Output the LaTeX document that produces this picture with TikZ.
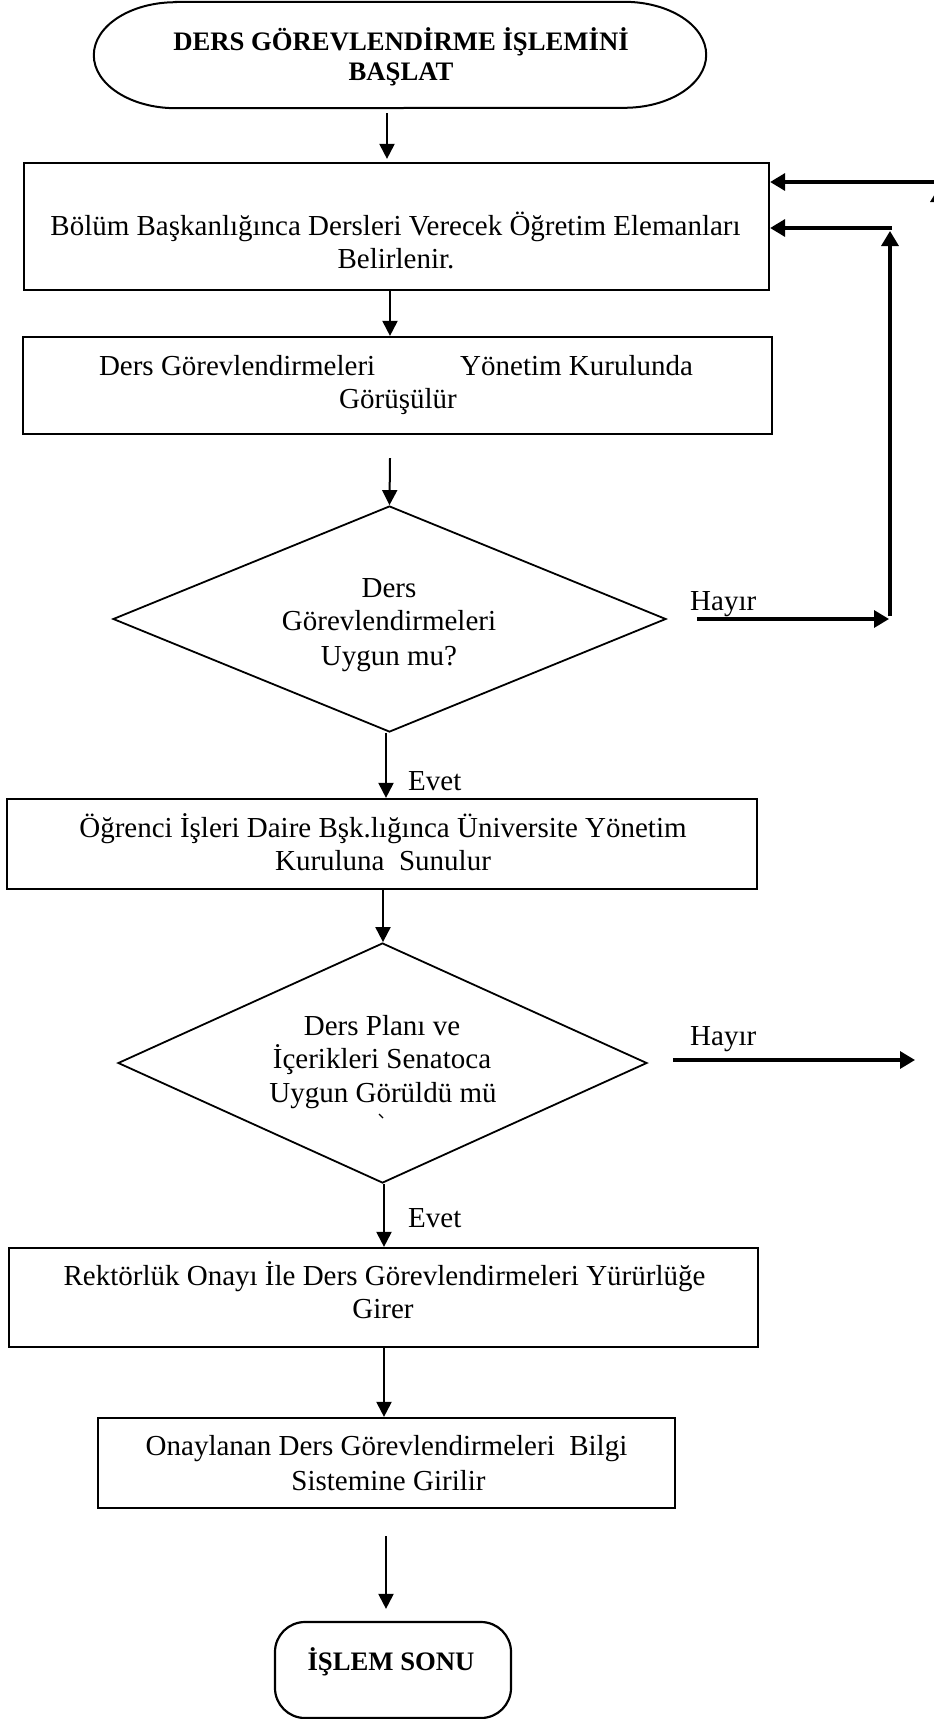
\documentclass[tikz,border=0pt]{standalone}
\usepackage{fontspec}
\setmainfont{Liberation Serif}
\usetikzlibrary{arrows.meta,shapes.geometric}
\begin{document}
\begin{tikzpicture}[x=1pt,y=-1pt,
  box/.style={draw, line width=2.2pt, rectangle, inner sep=0pt},
  decision/.style={draw, line width=1.8pt, diamond, inner sep=0pt},
  frame/.style={rectangle, inner sep=0pt},
  txt/.style={inner sep=0pt, anchor=base, font=\fontsize{29}{33}\selectfont},
  ttl/.style={inner sep=0pt, anchor=base, font=\bfseries\fontsize{26.7}{30}\selectfont},
  lbl/.style={inner sep=0pt, anchor=base west, font=\fontsize{29}{33}\selectfont},
  flow/.style={line width=2pt, -{Triangle[length=15pt,width=15pt]}},
  back/.style={line width=3.3pt, -{Triangle[length=15pt,width=17pt]}}
]
\path[use as bounding box] (0,0) rectangle (934,1719);
\clip (0,0) rectangle (934,1719);
\fill[white] (0,0) rectangle (934,1719);

% ---- shapes ----
\node[frame, minimum width=612pt, minimum height=106pt] (s) at (400,55) {};
\draw[line width=2pt] ([xshift=82pt]s.north west) -- ([xshift=-82pt]s.north east)
  arc[start angle=90, end angle=-90, x radius=82pt, y radius=53pt]
  -- ([xshift=82pt]s.south west)
  arc[start angle=270, end angle=90, x radius=82pt, y radius=53pt] -- cycle;

\node[box, minimum width=745pt, minimum height=127pt] (b1) at (396.5,226.5) {};
\node[box, minimum width=749pt, minimum height=97pt]  (b2) at (397.5,385.5) {};
\node[decision, minimum width=553pt, minimum height=226pt] (d1) at (389.5,619) {};
\node[box, minimum width=750pt, minimum height=90pt]  (b3) at (382,844) {};
\node[decision, minimum width=529pt, minimum height=240pt] (d2) at (382.5,1063) {};
\node[box, minimum width=749pt, minimum height=99pt]  (b4) at (383.5,1297.5) {};
\node[box, minimum width=577pt, minimum height=90pt]  (b5) at (386.5,1463) {};
\node[box, rounded corners=30pt, minimum width=236pt, minimum height=96pt] (e) at (393,1670) {};

% ---- texts ----
\node[ttl] (s1) at (401,50) {DERS GÖREVLENDİRME İŞLEMİNİ};
\node[ttl] (s2) at (401,80) {BAŞLAT};

\node[txt] (t1a) at (395.5,235) {Bölüm Başkanlığınca Dersleri Verecek Öğretim Elemanları};
\node[txt] (t1b) at (396,268) {Belirlenir.};

\node[txt] (t2a) at (396,375) {Ders Görevlendirmeleri\hspace{85pt}Yönetim Kurulunda};
\node[txt] (t2b) at (398,408) {Görüşülür};

\node[txt] (q1a) at (389,597) {Ders};
\node[txt] (q1b) at (389,630) {Görevlendirmeleri};
\node[txt] (q1c) at (389,665) {Uygun mu?};

\node[txt] (t3a) at (383,837) {Öğrenci İşleri Daire Bşk.lığınca Üniversite Yönetim};
\node[txt] (t3b) at (383,870) {Kuruluna\ \ Sunulur};

\node[txt] (q2a) at (382,1035) {Ders Planı ve};
\node[txt] (q2b) at (382,1068) {İçerikleri Senatoca};
\node[txt] (q2c) at (383,1102) {Uygun Görüldü mü};
\draw[line width=1.2pt] (379,1114) -- (383,1118);

\node[txt] (t4a) at (384.5,1285) {Rektörlük Onayı İle Ders Görevlendirmeleri Yürürlüğe};
\node[txt] (t4b) at (383,1318) {Girer};

\node[txt] (t5a) at (386.5,1455) {Onaylanan Ders Görevlendirmeleri\ \ Bilgi};
\node[txt] (t5b) at (388.5,1490) {Sistemine Girilir};

\node[ttl] (e1) at (391,1670) {İŞLEM SONU};

% ---- branch labels ----
\node[lbl] (y1) at (408,790) {Evet};
\node[lbl] (y2) at (408,1227) {Evet};
\node[lbl] (n1) at (690,610) {Hayır};
\node[lbl] (n2) at (690,1045) {Hayır};

% ---- main flow ----
\draw[flow] ([xshift=-13pt,yshift=-5pt]s.south) -- ([xshift=-9.5pt,yshift=3pt]b1.north);
\draw[flow] ([xshift=-6.5pt]b1.south) -- ([xshift=-7.5pt]b2.north);
\draw[flow] ([xshift=-7.5pt,yshift=-23pt]b2.south) -- (d1.north);
\draw[flow] ([xshift=-3.5pt]d1.south) -- ([xshift=4pt]b3.north);
\draw[flow] ([xshift=1pt]b3.south) -- ([xshift=0.5pt]d2.north);
\draw[flow] ([xshift=1.5pt]d2.south) -- ([xshift=0.5pt]b4.north);
\draw[flow] ([xshift=0.5pt]b4.south) -- ([xshift=-2.5pt]b5.north);
\draw[flow] ([xshift=-0.5pt,yshift=-27pt]b5.south) -- ([xshift=-7pt,yshift=12pt]e.north);

% ---- return paths ----
\coordinate (c1) at (889,619);
\coordinate (r1) at (890,228);
\coordinate (r2) at (950,182);
\coordinate (r3) at (939,290);
\coordinate (r4) at (939,187);
\coordinate (c2) at (915,1060);

\draw[back] ([xshift=30pt]d1.east) -- (c1);
\draw[back] ([xshift=1pt,yshift=3pt]c1) -- ([yshift=-3pt]r1);
\draw[back] ([xshift=2pt]r1) -- (r1 -| b1.east);
\draw[back] (r2) -- (r2 -| b1.east);
\draw[back] (r3) -- (r4);
\draw[back] ([xshift=25pt,yshift=3pt]d2.east) -- (c2);
\end{tikzpicture}
\end{document}
